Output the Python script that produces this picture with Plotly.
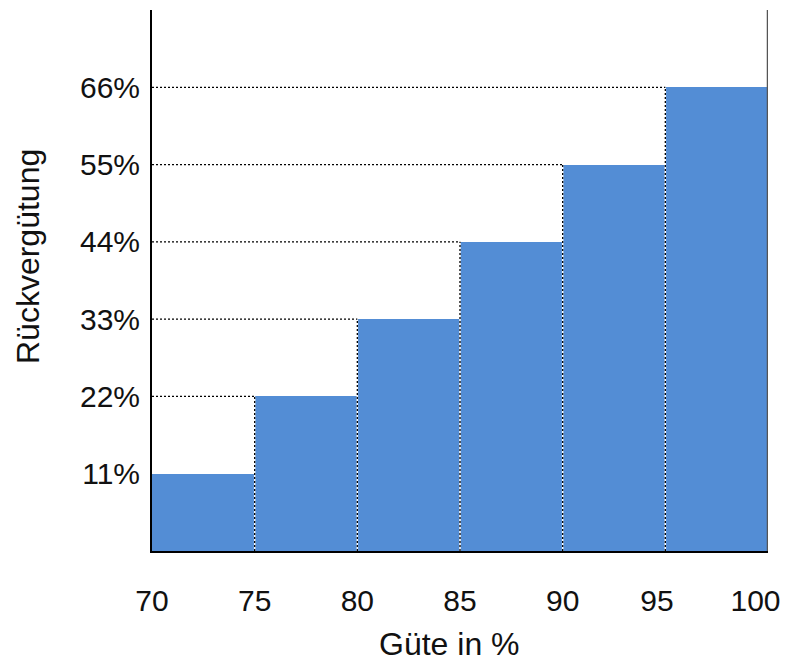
import plotly.graph_objects as go

# data
bin_left = [70, 75, 80, 85, 90, 95]
bin_width = 5
rebate = [11, 22, 33, 44, 55, 66]
x_ticks = [70, 75, 80, 85, 90, 95, 100]
x_tick_labels = ["70", "75", "80", "85", "90", "95\u00a0\u00a0", "100\u00a0\u00a0\u00a0"]
y_ticks = [11, 22, 33, 44, 55, 66]
y_tick_labels = ["11%", "22%", "33%", "44%", "55%", "66%"]

FONT = "Liberation Sans, Arial, sans-serif"
BAR_COLOR = "#538DD5"
TEXT_COLOR = "#111111"
Y_MAX = 77

fig = go.Figure()
fig.add_trace(go.Bar(
    x=bin_left, y=rebate, width=bin_width, offset=0,
    marker=dict(color=BAR_COLOR, line=dict(width=0)),
    hoverinfo="skip", showlegend=False,
))

# guide lines: horizontal from left axis to each bar's left edge,
# vertical at each bar boundary up to the higher bar
hx, hy, vx, vy = [], [], [], []
for xl, v in zip(bin_left, rebate):
    if xl > x_ticks[0]:
        hx += [x_ticks[0], xl, None]
        hy += [v, v, None]
        vx += [xl, xl, None]
        vy += [0, v, None]

fig.add_trace(go.Scatter(x=vx, y=vy, mode="lines",
                         line=dict(color="white", width=1.5),
                         hoverinfo="skip", showlegend=False))
for xs, ys in ((hx, hy), (vx, vy)):
    fig.add_trace(go.Scatter(x=xs, y=ys, mode="lines",
                             line=dict(color="black", width=1.3, dash="2px,2px"),
                             hoverinfo="skip", showlegend=False))

# right frame line
fig.add_trace(go.Scatter(x=[x_ticks[-1], x_ticks[-1]], y=[0, Y_MAX], mode="lines",
                         line=dict(color="#555555", width=2.5),
                         hoverinfo="skip", showlegend=False))

# plot area at 152..768 x 10..551 (body margin removed via post_script)
fig.update_layout(
    width=786, height=666,
    margin=dict(l=152, r=18, t=10, b=115, autoexpand=False),
    plot_bgcolor="white", paper_bgcolor="white",
    font=dict(family=FONT, size=30, color=TEXT_COLOR),
    bargap=0,
    xaxis=dict(range=[69.9999, 100.0001], tickvals=x_ticks, ticktext=x_tick_labels,
               showgrid=False, zeroline=False, showline=True, linecolor="black",
               linewidth=2, ticks="", ticklabelstandoff=22, ticklabeloverflow="allow",
               automargin=False),
    yaxis=dict(range=[0, Y_MAX], tickvals=y_ticks, ticktext=y_tick_labels,
               showgrid=False, zeroline=False, showline=True, linecolor="black",
               linewidth=2, ticks="", ticklabelstandoff=4, automargin=False),
    annotations=[
        dict(text="Güte in %", xref="paper", yref="paper", x=(449 - 152) / 616,
             y=-(644 - 551) / 541, xanchor="center", yanchor="middle",
             showarrow=False, font=dict(size=32, family=FONT, color=TEXT_COLOR)),
        dict(text="Rückvergütung", xref="paper", yref="paper", x=-(152 - 28) / 616,
             y=(551 - 257) / 541, xanchor="center", yanchor="middle", textangle=-90,
             showarrow=False, font=dict(size=32, family=FONT, color=TEXT_COLOR)),
    ],
)

fig.write_html("out.html",
               config={"displayModeBar": False},
               post_script="document.body.style.margin='0';document.body.style.overflow='hidden';")
